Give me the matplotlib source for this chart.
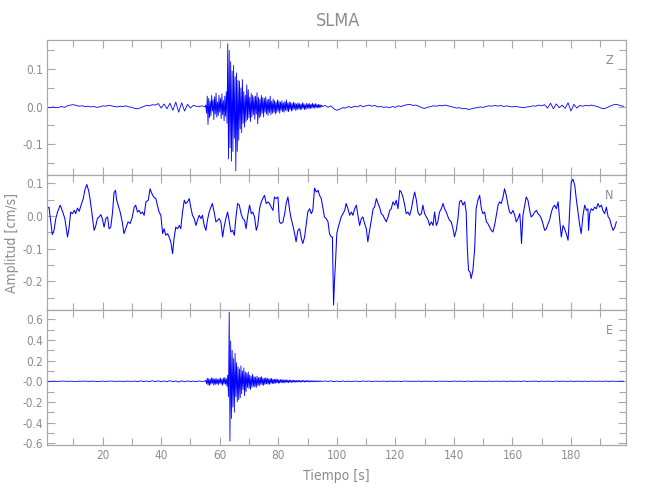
import numpy as np
import matplotlib
matplotlib.use("Agg")
import matplotlib.pyplot as plt
from matplotlib import font_manager
from matplotlib.ticker import MultipleLocator, FixedLocator, FixedFormatter

# pick a narrow font if one is installed
_fonts = font_manager.fontManager.ttflist
_narrow = [f for f in _fonts if ("Narrow" in f.name or "Condensed" in f.name
                                 or f.stretch in ("condensed", "semi-condensed"))
           and f.style == "normal"]
_pref = ["Liberation Sans Narrow", "DejaVu Sans"]
_chosen = None
for p in _pref:
    for f in _narrow:
        if f.name == p:
            _chosen = f
            break
    if _chosen:
        break
if _chosen is None and _narrow:
    _chosen = _narrow[0]
if _chosen is not None:
    plt.rcParams['font.family'] = [_chosen.name, 'DejaVu Sans']
    plt.rcParams['font.stretch'] = _chosen.stretch
    narrow = True
else:
    plt.rcParams['font.family'] = ['Liberation Sans', 'DejaVu Sans']
    narrow = False

# ---------------- data ----------------
title = "SLMA"
channels = ["Z", "N", "E"]
xlabel = "Tiempo [s]"
ylabel = "Amplitud [cm/s]"
x_ticks = [20, 40, 60, 80, 100, 120, 140, 160, 180]
x_tick_labels = ["20", "40", "60", "80", "100", "120", "140", "160", "180"]

# Z channel: quiet part 1 s sampling, event part 0.25 s sampling
z_t_q1_start, z_t_ev_start, z_t_q2_start = 1.0, 55.25, 96.0
z_q1 = [-0.002, -0.003, -0.001, -0.003, -0.002, 0.000, -0.002, 0.002, 0.004, 0.005,
        0.003, 0.001, 0.002, 0.000, 0.001, -0.001, 0.000, -0.002, -0.001, 0.002,
        0.001, 0.003, 0.002, 0.000, -0.001, 0.001, 0.000, 0.002, -0.001, -0.002,
        -0.005, -0.006, -0.003, 0.000, 0.003, 0.002, 0.005, 0.004, 0.008, -0.004,
        0.007, -0.006, 0.009, -0.010, 0.012, -0.015, 0.010, -0.012, 0.006, -0.004,
        0.003, 0.001, 0.000, 0.002, -0.001]
z_ev = [0.004, -0.018, 0.028, -0.048, 0.022, -0.030, 0.015, -0.025, 0.030, -0.012,
        0.018, -0.035, 0.026, -0.020, 0.036, -0.028, 0.012, -0.024, 0.030, -0.015,
        0.022, -0.032, 0.034, -0.022, 0.016, -0.038, 0.028, -0.026, 0.040, -0.045,
        0.168, -0.140, 0.150, -0.110, 0.120, -0.146, 0.095, -0.120, 0.110, -0.085,
        0.080, -0.172, 0.090, -0.120, 0.070, -0.090, 0.068, -0.060, 0.050, -0.070,
        0.072, -0.045, 0.040, -0.055, 0.030, -0.040, 0.058, -0.035, 0.045, -0.030,
        0.025, -0.040, 0.035, -0.028, 0.030, -0.022, 0.026, -0.034, 0.028, -0.020,
        0.037, -0.046, 0.025, -0.030, 0.020, -0.026, 0.030, -0.018, 0.024, -0.028,
        0.022, -0.015, 0.026, -0.020, 0.018, -0.024, 0.020, -0.016, 0.028, -0.022,
        0.014, -0.018, 0.020, -0.015, 0.016, -0.020, 0.012, -0.016, 0.018, -0.012,
        0.015, -0.018, 0.012, -0.010, 0.016, -0.014, 0.010, -0.015, 0.013, -0.010,
        0.018, -0.012, 0.010, -0.014, 0.012, -0.008, 0.011, -0.012, 0.008, -0.010,
        0.012, -0.006, 0.009, -0.011, 0.007, -0.008, 0.010, -0.006, 0.008, -0.009,
        0.006, -0.007, 0.010, -0.005, 0.008, -0.008, 0.005, -0.007, 0.009, -0.004,
        0.007, -0.006, 0.008, -0.005, 0.006, -0.004, 0.009, -0.003, 0.006, -0.005,
        0.008, -0.002, 0.005, -0.004, 0.006, -0.003, 0.005, -0.002, 0.004, 0.000]
z_q2 = [0.003, -0.002, 0.002, -0.006, -0.010, -0.007, -0.003, -0.004, 0.000, -0.003,
        0.001, -0.001, 0.003, 0.000, 0.002, 0.004, 0.001, 0.003, -0.001, 0.000,
        -0.002, -0.001, -0.003, 0.000, -0.002, 0.002, 0.000, 0.003, 0.005, 0.006,
        0.003, 0.004, 0.001, -0.003, -0.005, -0.002, 0.000, 0.002, 0.001, 0.003,
        0.002, 0.004, 0.002, 0.000, -0.002, -0.004, -0.003, -0.006, -0.005, -0.008,
        -0.006, -0.004, -0.003, -0.001, -0.002, 0.000, 0.002, 0.001, 0.003, 0.001,
        0.003, 0.000, 0.002, 0.000, -0.001, 0.001, -0.001, -0.002, -0.003, -0.001,
        0.000, 0.002, 0.001, 0.004, 0.002, 0.005, -0.004, 0.009, -0.006, 0.007,
        -0.003, 0.004, -0.005, 0.010, -0.012, 0.006, -0.004, 0.003, 0.001, 0.003,
        0.002, 0.004, 0.002, 0.000, -0.003, -0.006, -0.004, 0.000, 0.003, 0.006,
        0.005, 0.002, 0.001]

# N channel: (time, value) pairs
n_t = [1.1, 1.7, 2.3, 2.8, 3.4, 4.0, 4.6, 5.5, 6.3, 7.1, 8.0, 8.5, 9.1, 9.7, 10.3, 10.8,
       11.4, 12.0, 12.8, 13.4, 13.9, 14.6, 15.2, 15.7, 16.3, 17.1, 17.7, 18.2, 18.8, 19.4,
       19.9, 20.5, 21.1, 21.7, 22.2, 22.8, 23.4, 23.9, 24.4, 24.8, 25.3, 26.0, 26.7, 27.3,
       27.9, 28.7, 29.4, 30.0, 30.8, 31.3, 31.9, 32.5, 33.0, 33.6, 34.2, 34.8, 35.6, 36.2,
       36.7, 37.4, 38.2, 38.7, 39.3, 39.9, 40.5, 41.0, 41.6, 42.2, 42.7, 43.3, 43.9, 44.4,
       45.0, 45.6, 46.2, 46.7, 47.3, 47.9, 48.4, 49.0, 49.6, 50.1, 50.7, 51.3, 51.9, 52.4,
       53.0, 53.6, 54.1, 54.7, 55.3, 55.8, 56.4, 57.0, 57.5, 58.1, 58.7, 59.3, 59.8, 60.4,
       61.0, 61.5, 62.1, 62.7, 63.2, 63.8, 64.4, 65.0, 65.5, 66.1, 66.7, 67.3, 67.9, 68.5,
       69.0, 69.6, 70.2, 70.8, 71.3, 71.9, 72.5, 73.0, 73.6, 74.2, 74.7, 75.3, 75.9, 76.5,
       77.0, 77.6, 78.2, 78.7, 79.3, 79.9, 80.4, 81.0, 81.6, 82.2, 82.7, 83.3, 83.9, 84.4,
       85.0, 85.6, 86.1, 86.7, 87.3, 87.9, 88.4, 89.0, 89.6, 90.1, 90.7, 91.3, 91.8, 92.4,
       93.0, 93.6, 94.1, 94.7, 95.3, 95.8, 96.4, 97.0, 97.5, 98.1, 98.5, 98.7, 98.9, 99.2,
       99.6, 100.0, 100.5, 101.0, 101.5, 102.1, 102.7, 103.2, 103.8, 104.4, 105.0, 105.5,
       106.1, 106.7, 107.2, 107.8, 108.4, 108.9, 109.5, 110.1, 110.6, 111.2, 111.8, 112.4,
       112.9, 113.5, 114.1, 114.6, 115.2, 115.8, 116.3, 116.9, 117.5, 118.1, 118.6, 119.2,
       119.8, 120.3, 120.9, 121.5, 122.0, 122.6, 123.2, 123.7, 124.3, 124.9, 125.5, 126.0,
       126.6, 127.2, 127.7, 128.3, 128.9, 129.4, 130.0, 130.6, 131.2, 131.7, 132.3, 132.9,
       133.4, 134.0, 134.5, 135.1, 135.7, 136.3, 136.8, 137.4, 138.0, 138.5, 139.1, 139.7,
       140.2, 140.8, 141.4, 141.9, 142.5, 143.1, 143.7, 144.2, 144.6, 145.0, 145.5, 145.9,
       146.5, 147.1, 147.6, 148.2, 148.8, 149.4, 149.9, 150.5, 151.1, 151.6, 152.2, 152.8,
       153.3, 153.9, 154.5, 155.1, 155.6, 156.2, 156.8, 157.3, 157.9, 158.5, 159.0, 159.6,
       160.2, 160.8, 161.3, 161.9, 162.5, 162.8, 163.1, 163.6, 164.2, 164.7, 165.3, 165.9,
       166.4, 167.0, 167.6, 168.2, 168.7, 169.3, 169.9, 170.4, 171.0, 171.6, 172.2, 172.7,
       173.3, 173.9, 174.4, 175.0, 175.6, 176.1, 176.7, 177.3, 177.8, 178.4, 179.0, 179.3,
       179.7, 180.1, 180.7, 181.3, 181.8, 182.4, 183.0, 183.5, 184.1, 184.7, 185.3, 185.8,
       186.0, 186.4, 186.9, 187.5, 188.1, 188.7, 189.2, 189.8, 190.4, 190.9, 191.5, 192.1,
       192.7, 193.2, 193.8, 194.4, 195.0, 195.5]
n_v = [0.022, 0.027, -0.018, -0.057, -0.044, -0.008, 0.012, 0.033, 0.014, -0.008, -0.064,
       -0.039, 0.012, 0.007, 0.017, 0.007, 0.024, 0.014, 0.038, 0.053, 0.078, 0.096, 0.078,
       0.053, 0.012, -0.044, -0.029, -0.008, -0.003, 0.004, -0.008, -0.034, -0.008, -0.003,
       -0.039, -0.034, 0.012, 0.071, 0.078, 0.048, 0.033, 0.012, -0.018, -0.054, -0.039,
       -0.018, -0.023, -0.008, 0.027, 0.033, 0.012, 0.017, 0.007, 0.012, 0.002, 0.043,
       0.048, 0.083, 0.071, 0.058, 0.053, 0.033, 0.012, 0.002, -0.054, -0.039, -0.059,
       -0.054, -0.064, -0.079, -0.115, -0.069, -0.034, -0.039, -0.029, -0.039, 0.012,
       0.048, 0.038, 0.043, 0.053, 0.027, 0.002, -0.008, -0.029, -0.013, 0.002, -0.008,
       0.002, -0.029, -0.044, -0.013, 0.012, 0.027, 0.038, 0.012, -0.018, -0.013, -0.008,
       -0.018, -0.064, -0.034, -0.008, 0.012, -0.013, -0.049, -0.044, -0.059, -0.008,
       0.038, 0.033, 0.007, -0.008, -0.013, -0.039, 0.002, 0.033, 0.007, 0.012, -0.003,
       -0.044, -0.029, 0.022, 0.043, 0.053, 0.063, 0.038, 0.043, 0.038, 0.027, 0.017,
       0.058, 0.053, 0.058, -0.018, -0.023, -0.018, 0.007, 0.038, 0.058, 0.017, -0.008,
       -0.029, -0.054, -0.079, -0.044, -0.039, -0.069, -0.084, -0.064, -0.023, 0.012,
       0.022, 0.007, 0.017, 0.085, 0.073, 0.078, 0.063, 0.053, 0.022, -0.003, -0.008,
       -0.018, -0.054, -0.064, -0.064, -0.161, -0.272, -0.201, -0.135, -0.054, -0.034,
       -0.018, -0.003, 0.007, 0.017, 0.038, 0.022, 0.002, 0.012, 0.002, 0.022, 0.033,
       0.002, -0.029, -0.008, -0.003, -0.023, -0.039, -0.079, -0.044, -0.013, 0.022,
       0.027, 0.053, 0.038, 0.027, 0.007, 0.002, -0.008, -0.018, -0.003, 0.017, 0.022,
       0.043, 0.033, 0.048, 0.022, 0.078, 0.073, 0.058, 0.033, 0.007, 0.012, 0.002,
       0.022, 0.048, 0.073, 0.048, 0.012, 0.002, 0.007, 0.033, 0.007, -0.003, -0.013,
       -0.029, -0.018, -0.029, 0.012, -0.029, -0.018, 0.012, 0.022, 0.038, 0.022, 0.012,
       -0.003, -0.013, -0.018, -0.039, -0.064, -0.044, -0.008, 0.043, 0.048, 0.033, 0.043,
       0.012, -0.100, -0.166, -0.171, -0.191, -0.166, -0.100, 0.022, 0.048, 0.063, 0.022,
       0.007, 0.012, -0.018, -0.023, -0.034, -0.044, -0.049, -0.029, 0.002, 0.033, 0.043,
       0.038, 0.058, 0.083, 0.063, 0.033, 0.012, 0.007, 0.017, 0.002, -0.018, -0.008,
       0.007, -0.029, -0.084, 0.002, 0.033, 0.058, 0.048, 0.017, -0.003, 0.002, 0.012,
       0.017, 0.007, 0.002, -0.008, -0.023, -0.044, -0.039, -0.023, -0.013, 0.012, 0.027,
       0.033, 0.022, 0.043, -0.008, -0.064, -0.029, -0.039, -0.054, -0.074, -0.029, 0.043,
       0.104, 0.112, 0.093, 0.053, 0.012, -0.029, -0.054, 0.002, 0.033, 0.017, 0.022,
       -0.044, 0.007, 0.022, 0.017, 0.027, 0.022, 0.038, 0.027, 0.033, 0.017, 0.007,
       0.027, -0.003, -0.008, -0.029, -0.044, -0.034, -0.018]

# E channel
e_q1 = [0.000, -0.002, 0.001, 0.000, -0.001, 0.002, 0.000, -0.001, 0.001, 0.000,
        -0.002, 0.001, 0.000, 0.002, -0.001, 0.000, 0.001, -0.002, 0.000, 0.001,
        -0.001, 0.000, 0.002, -0.001, 0.000, 0.001, -0.002, 0.001, 0.000, -0.001,
        0.002, -0.003, 0.004, -0.002, 0.003, -0.004, 0.005, -0.003, 0.004, -0.005,
        0.003, -0.004, 0.006, -0.005, 0.004, -0.008, 0.005, -0.006, 0.004, -0.003,
        0.002, -0.004, 0.003, -0.002, 0.001]
e_ev = [0.010, -0.025, 0.030, -0.035, 0.025, -0.040, 0.020, -0.030, 0.035, -0.020,
        0.028, -0.038, 0.022, -0.030, 0.030, -0.025, 0.018, -0.035, 0.025, -0.020,
        0.030, -0.028, 0.020, -0.040, 0.032, -0.025, 0.038, -0.030, 0.025, -0.050,
        0.060, -0.150, 0.670, -0.580, 0.390, -0.360, 0.300, -0.250, 0.220, -0.300,
        0.270, -0.150, 0.180, -0.200, 0.140, -0.180, 0.120, -0.160, 0.150, -0.120,
        0.100, -0.080, 0.130, -0.140, 0.090, -0.100, 0.080, -0.060, 0.090, -0.070,
        0.060, -0.080, 0.050, -0.060, 0.070, -0.050, 0.045, -0.055, 0.040, -0.060,
        0.050, -0.040, 0.035, -0.045, 0.040, -0.030, 0.045, -0.035, 0.030, -0.040,
        0.028, -0.030, 0.035, -0.025, 0.030, -0.028, 0.022, -0.030, 0.025, -0.020,
        0.028, -0.022, 0.018, -0.025, 0.020, -0.018, 0.022, -0.015, 0.018, -0.020,
        0.015, -0.018, 0.016, -0.012, 0.018, -0.015, 0.012, -0.016, 0.014, -0.010,
        0.015, -0.012, 0.010, -0.014, 0.012, -0.009, 0.012, -0.011, 0.008, -0.010,
        0.011, -0.008, 0.009, -0.010, 0.007, -0.008, 0.010, -0.006, 0.008, -0.009,
        0.006, -0.007, 0.009, -0.005, 0.007, -0.008, 0.005, -0.006, 0.008, -0.004,
        0.006, -0.007, 0.005, -0.004, 0.006, -0.005, 0.004, -0.006, 0.005, -0.003,
        0.005, -0.004, 0.003, -0.005, 0.004, -0.003, 0.004, -0.002, 0.003, -0.002]
e_q2 = [0.003, -0.002, 0.004, -0.003, 0.002, -0.004, 0.003, -0.002, 0.001, -0.003,
        0.002, 0.000, -0.002, 0.003, -0.001, 0.002, -0.002, 0.001, 0.000, -0.001,
        0.002, -0.002, 0.001, 0.000, -0.001, 0.001, -0.002, 0.002, 0.000, -0.001,
        0.001, -0.001, 0.002, -0.002, 0.001, 0.000, -0.001, 0.002, -0.003, 0.002,
        -0.001, 0.001, 0.000, -0.002, 0.002, -0.001, 0.001, 0.000, -0.001, 0.002,
        -0.002, 0.001, 0.000, -0.001, 0.001, -0.002, 0.002, -0.001, 0.000, 0.001,
        -0.001, 0.002, -0.002, 0.001, 0.000, -0.001, 0.001, -0.002, 0.003, -0.002,
        0.001, -0.001, 0.002, -0.003, 0.002, -0.001, 0.001, 0.000, -0.002, 0.002,
        -0.001, 0.001, 0.000, -0.001, 0.002, -0.002, 0.001, 0.000, -0.001, 0.001,
        -0.002, 0.002, -0.001, 0.000, 0.001, -0.001, 0.002, -0.002, 0.001, 0.000,
        -0.001, 0.001, 0.000]

y_limits = {"Z": (-0.183, 0.178), "N": (-0.287, 0.125), "E": (-0.617, 0.69)}
y_major = {"Z": [-0.1, 0.0, 0.1], "N": [-0.2, -0.1, 0.0, 0.1],
           "E": [-0.6, -0.4, -0.2, 0.0, 0.2, 0.4, 0.6]}
y_major_labels = {"Z": ["-0.1", "0.0", "0.1"],
                  "N": ["-0.2", "-0.1", "0.0", "0.1"],
                  "E": ["-0.6", "-0.4", "-0.2", "-0.0", "0.2", "0.4", "0.6"]}
y_minor_step = {"Z": 0.05, "N": 0.05, "E": 0.1}


def build(q1, ev, q2, t1, te, t2):
    t = np.concatenate([t1 + np.arange(len(q1)) * 1.0,
                        te + np.arange(len(ev)) * 0.25,
                        t2 + np.arange(len(q2)) * 1.0])
    v = np.concatenate([q1, ev, q2])
    return t, v


z_t, z_v = build(z_q1, z_ev, z_q2, z_t_q1_start, z_t_ev_start, z_t_q2_start)
e_t, e_v = build(e_q1, e_ev, e_q2, z_t_q1_start, z_t_ev_start, z_t_q2_start)
series = {"Z": (z_t, z_v), "N": (np.array(n_t), np.array(n_v)), "E": (e_t, e_v)}
line_w = {"Z": 0.6, "N": 0.75, "E": 0.6}

# ---------------- plot ----------------
gray = "#8c8c8c"
frame = "#a8a8a8"
tick_fs = 8.5 if narrow else 7.5
lab_fs = 10 if narrow else 9

fig = plt.figure(figsize=(6.5, 5.0), dpi=100)
left, width = 47 / 650, (626 - 47) / 650
bottoms = {"Z": 1 - 175 / 500, "N": 1 - 310 / 500, "E": 1 - 445 / 500}
h = 135 / 500

axes = {}
for ch in channels:
    ax = fig.add_axes([left, bottoms[ch], width, h])
    axes[ch] = ax
    t, v = series[ch]
    ax.plot(t, v, color="#0000ff", lw=line_w[ch])
    ax.set_xlim(1.0, 198.8)
    ax.set_ylim(*y_limits[ch])
    ax.xaxis.set_major_locator(FixedLocator(x_ticks))
    ax.xaxis.set_minor_locator(MultipleLocator(10))
    ax.yaxis.set_major_locator(FixedLocator(y_major[ch]))
    ax.yaxis.set_major_formatter(FixedFormatter(y_major_labels[ch]))
    ax.yaxis.set_minor_locator(MultipleLocator(y_minor_step[ch]))
    ax.tick_params(which="both", direction="in", top=True, right=True,
                   color=frame, labelcolor=gray, labelsize=tick_fs, width=0.8)
    ax.tick_params(which="major", length=6, pad=3)
    ax.tick_params(which="minor", length=5)
    for s in ax.spines.values():
        s.set_color(frame)
        s.set_linewidth(0.9)
    ax.text(0.971, 0.845, ch, transform=ax.transAxes, ha="center", va="center",
            color=gray, fontsize=9)
    if ch != "E":
        ax.tick_params(labelbottom=False)
    else:
        ax.set_xticklabels(x_tick_labels)

axes["E"].set_xlabel(xlabel, color=gray, fontsize=lab_fs, labelpad=5)
fig.text(12 / 650, 1 - 243 / 500, ylabel, rotation=90, ha="center", va="center",
         color=gray, fontsize=lab_fs)
fig.text(338 / 650, 1 - 21 / 500, title, ha="center", va="center", color=gray,
         fontsize=13)

fig.savefig("out.png", dpi=100)
